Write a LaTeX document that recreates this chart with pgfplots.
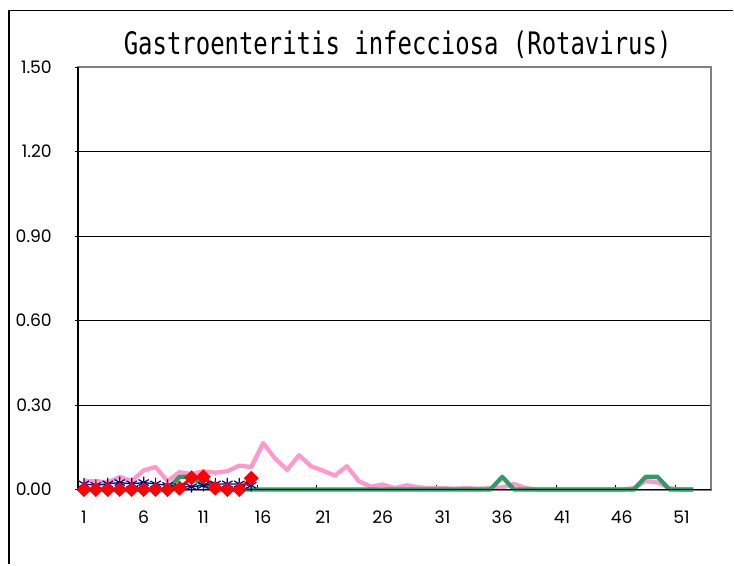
\documentclass[border=0pt]{standalone}
\usepackage{pgfplots}
\pgfplotsset{compat=1.18}
\usepackage{graphicx}
\usepackage{fontspec}
\setmainfont{Poppins}
\newfontfamily\titlefont{DejaVu Sans Mono}
\definecolor{cpink}{HTML}{FF99CC}
\definecolor{cgreen}{HTML}{339966}
\definecolor{cnavy}{HTML}{000080}
\definecolor{cred}{HTML}{FF0000}
\definecolor{cframe}{HTML}{808080}
\begin{document}
\begin{tikzpicture}
\begin{axis}[
  scale only axis, width=634pt, height=423pt,
  xmin=0.5, xmax=53.5, ymin=0, ymax=1.5,
  clip=false,
  axis line style={draw=cframe, line width=2},
  ytick={0,0.3,0.6,0.9,1.2,1.5},
  yticklabel style={/pgf/number format/fixed, /pgf/number format/fixed zerofill, /pgf/number format/precision=2},
  ymajorgrids, major grid style={black, line width=0.9},
  xtick={1,6,...,51},
  tick pos=left,
  x tick style={draw=none},
  y tick style={black, line width=0.8},
  major tick length=3pt,
  tick align=outside,
  extra x ticks={0.5,5.5,...,50.5},
  extra x tick labels={},
  extra x tick style={tick align=inside, tick pos=left, x tick style={draw=black, line width=1}, major tick length=5pt},
  /pgf/number format/assume math mode=true,
  tick label style={font=\fontsize{17.2}{19}\selectfont, inner sep=0pt},
  yticklabel style={anchor=east, xshift=-23pt},
  xticklabel style={anchor=north, yshift=-18pt},
]
\path (rel axis cs:-0.12303,-0.17730) rectangle (rel axis cs:1.03470,1.15839);
\draw[black, line width=1.3] (rel axis cs:-0.10883,-0.17730) -- (rel axis cs:-0.10883,1.13357) -- (rel axis cs:1.03470,1.13357);
\node[anchor=base] at (rel axis cs:0.50473,1.02837) {\scalebox{0.773}[1]{\titlefont\fontsize{31}{34}\selectfont Gastroenteritis infecciosa (Rotavirus)}};
\addplot[cpink, line width=4.3, line join=round] coordinates {
(1,0.03)(2,0.03)(3,0.025)(4,0.045)(5,0.03)(6,0.068)(7,0.08)(8,0.03)(9,0.062)(10,0.055)
(11,0.065)(12,0.06)(13,0.065)(14,0.085)(15,0.08)(16,0.165)(17,0.11)(18,0.07)(19,0.122)(20,0.083)
(21,0.067)(22,0.05)(23,0.083)(24,0.03)(25,0.01)(26,0.018)(27,0.005)(28,0.015)(29,0.008)(30,0.005)
(31,0.005)(32,0.003)(33,0.005)(34,0.003)(35,0.005)(36,0.008)(37,0.02)(38,0.005)(39,0)(40,0)
(41,0)(42,0)(43,0)(44,0)(45,0)(46,0)(47,0.005)(48,0.03)(49,0.025)(50,0.005)
(51,0)(52,0)
};
\addplot[cgreen, line width=4.3, line join=round] coordinates {
(1,0)(2,0)(3,0)(4,0)(5,0)(6,0)(7,0)(8,0)(9,0.045)(10,0.045)
(11,0.015)(12,0)(13,0)(14,0)(15,0)(16,0)(17,0)(18,0)(19,0)(20,0)
(21,0)(22,0)(23,0)(24,0)(25,0)(26,0)(27,0)(28,0)(29,0)(30,0)
(31,0)(32,0)(33,0)(34,0)(35,0)(36,0.045)(37,0)(38,0)(39,0)(40,0)
(41,0)(42,0)(43,0)(44,0)(45,0)(46,0)(47,0)(48,0.045)(49,0.045)(50,0)
(51,0)(52,0)
};
\addplot[cnavy, line width=1.3, mark=asterisk, mark size=6, mark options={line width=1.2}] coordinates {
(1,0.02)(2,0.015)(3,0.02)(4,0.025)(5,0.02)(6,0.025)(7,0.02)(8,0.015)(9,0.01)(10,0.01)
(11,0.015)(12,0.02)(13,0.02)(14,0.02)(15,0.015)
};
\addplot[cred, line width=3.2, mark=square*, mark size=5, mark options={rotate=45, line width=0.5}] coordinates {
(1,0)(2,0)(3,0)(4,0)(5,0)(6,0)(7,0)(8,0)(9,0.005)(10,0.042)
(11,0.045)(12,0.005)(13,0)(14,0)(15,0.04)
};
\draw[black, line width=1.6] (rel axis cs:0,0) -- (rel axis cs:0,1);
\draw[black, line width=1.4] (rel axis cs:0,0) -- (rel axis cs:1,0);
\end{axis}
\end{tikzpicture}
\end{document}
